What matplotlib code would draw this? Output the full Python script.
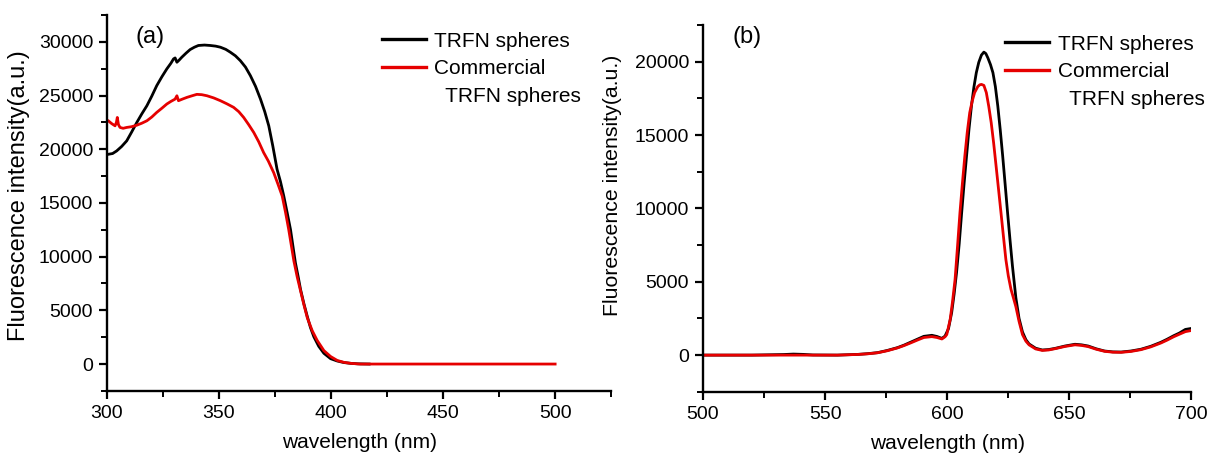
"""Fluorescence spectra of TRFN spheres vs commercial TRFN spheres, panels (a) and (b)."""
import matplotlib
matplotlib.use("Agg")
import matplotlib.pyplot as plt
from matplotlib.lines import Line2D
from matplotlib.ticker import MultipleLocator

plt.rcParams["font.family"] = ["Liberation Sans", "DejaVu Sans"]

# panel (a): excitation spectra
a_trfn_wl = [300, 300.6, 302.5, 304.3, 306.5, 308.8, 311, 313.3, 315.5, 317.8, 320,
             322.2, 324.5, 326.7, 328.5, 329.7, 330.4, 331.2, 332.2, 333.4, 335.3,
             337.1, 339, 340.8, 343.5, 346.1, 348.5, 350.6, 353, 355, 357.3, 359.5,
             361.8, 364, 366.3, 368.5, 370.4, 372.2, 374, 375.9, 377.4, 378.9, 380.4,
             381.9, 383, 384.1, 385.3, 386.4, 387.9, 389.4, 390.8, 392.3, 394.5,
             396.8, 399.8, 402.8, 405.7, 408.7, 412, 417]
a_trfn_int = [19500, 19530, 19600, 19840, 20250, 20780, 21600, 22490, 23280, 24050,
              24950, 25920, 26750, 27480, 28000, 28410, 28500, 28100, 28300, 28570,
              28950, 29280, 29500, 29660, 29700, 29660, 29600, 29500, 29300, 29040,
              28700, 28250, 27650, 26850, 25850, 24670, 23500, 22180, 20300, 18130,
              17000, 15640, 14100, 12520, 10950, 9410, 8150, 6920, 5600, 4420, 3400,
              2550, 1650, 1000, 500, 280, 140, 65, 20, 0]
a_comm_wl = [300, 300.6, 302, 303.6, 304.2, 304.6, 305.1, 305.8, 307.2, 308.8, 311,
             313.3, 315.5, 317.8, 320, 322.2, 324.5, 326.7, 328.5, 330.4, 331.2,
             331.9, 333.8, 335.7, 338, 340.1, 342.3, 344.6, 347.6, 350.6, 353.5,
             356.5, 358.8, 361, 363.2, 365.5, 367.7, 369.9, 372, 374.4, 376.3, 378.2,
             379.7, 381.1, 382.3, 383.4, 384.9, 386.4, 387.9, 389.4, 391.6, 393.8,
             396.8, 399.8, 402.8, 405.7, 409, 413, 430, 450, 470, 490, 500]
a_comm_int = [22700, 22650, 22400, 22180, 22500, 22960, 22300, 22030, 21950, 22030,
              22100, 22240, 22420, 22650, 23000, 23430, 23820, 24210, 24450, 24670,
              24980, 24520, 24680, 24830, 24980, 25110, 25080, 24980, 24780, 24520,
              24230, 23900, 23500, 22960, 22300, 21560, 20700, 19690, 18900, 17820,
              16750, 15640, 14100, 12520, 11000, 9600, 8100, 6800, 5500, 4300, 3100,
              2200, 1250, 700, 330, 160, 60, 0, 0, 0, 0, 0, 0]

# panel (b): emission spectra
b_trfn_wl = [500, 520, 533, 537, 541, 545, 555, 563.4, 567.5, 571.5, 575.5, 579.6,
             582.3, 585, 587.7, 590.4, 593.7, 595.8, 597.8, 599.1, 600.5, 601.8,
             602.8, 603.8, 604.9, 605.9, 606.9, 607.9, 608.9, 609.9, 610.9, 611.9,
             612.9, 614, 615, 615.8, 616.6, 617.7, 618.7, 619.7, 620.7, 621.7, 622.7,
             623.7, 624.7, 625.7, 626.7, 628.1, 629.4, 630.8, 632.2, 633.5, 636.2,
             638.9, 641.5, 644.2, 648.2, 652.3, 655, 657.7, 661, 664.4, 667.8, 671.2,
             675.2, 679.3, 683.3, 687.4, 690, 692.7, 695, 697.5, 700]
b_trfn_int = [0, 0, 40, 70, 50, 10, 0, 50, 100, 170, 320, 510, 680, 880, 1080, 1280,
              1350, 1270, 1140, 1300, 1800, 2890, 4150, 5617, 7600, 9707, 11700,
              13565, 15400, 16970, 18250, 19250, 19950, 20450, 20650, 20550, 20270,
              19800, 19250, 18300, 16970, 15350, 13565, 11650, 9707, 7850, 6070, 3900,
              2500, 1580, 1050, 760, 470, 350, 380, 460, 620, 740, 700, 620, 430, 280,
              220, 210, 280, 400, 600, 870, 1080, 1320, 1500, 1750, 1820]
b_comm_wl = [500, 520, 540, 555, 563.4, 567.5, 571.5, 575.5, 579.6, 582.3, 585,
             587.7, 590.4, 593.7, 595.8, 597.8, 599.1, 599.8, 601.2, 602.2, 603.2,
             604.2, 605.2, 606.2, 607.2, 608.2, 609.2, 610.2, 611.2, 612.5, 613.3,
             614, 615, 616, 617, 618, 619, 620, 621, 622, 623, 624, 625, 626.1, 627.1,
             628.1, 629.4, 630.8, 632.2, 633.5, 636.2, 638.9, 641.5, 644.2, 648.2,
             652.3, 655, 657.7, 661, 664.4, 667.8, 671.2, 675.2, 679.3, 683.3, 687.4,
             690, 692.7, 695, 697.5, 700]
b_comm_int = [0, 0, 0, 0, 45, 90, 160, 300, 490, 650, 830, 1020, 1200, 1260, 1200,
              1100, 1250, 1400, 2430, 3700, 5160, 7400, 9707, 11700, 13565, 15200,
              16520, 17300, 17890, 18300, 18420, 18450, 18380, 17890, 16950, 15840,
              14450, 12880, 11300, 9707, 8100, 6520, 5400, 4480, 3900, 3300, 2300,
              1400, 950, 700, 420, 320, 350, 440, 590, 700, 660, 580, 400, 260, 200,
              190, 250, 370, 560, 820, 1020, 1250, 1420, 1600, 1680]

LABELS = ["TRFN spheres", "Commercial", "  TRFN spheres"]
BLACK = "#000000"
RED = "#e60000"


def style_axes(ax, xlim, ylim, xmajor, ymajor, ylabel_size, ylabel_xy):
    ax.set_xlim(*xlim)
    ax.set_ylim(*ylim)
    ax.xaxis.set_major_locator(MultipleLocator(xmajor))
    ax.xaxis.set_minor_locator(MultipleLocator(xmajor / 2))
    ax.yaxis.set_major_locator(MultipleLocator(ymajor))
    ax.yaxis.set_minor_locator(MultipleLocator(ymajor / 2))
    for side in ("top", "right"):
        ax.spines[side].set_visible(False)
    for side in ("left", "bottom"):
        ax.spines[side].set_linewidth(1.7)
    ax.tick_params(which="major", direction="out", length=6, width=1.6,
                   labelsize=14, pad=4)
    ax.tick_params(which="minor", direction="out", length=4, width=1.4)
    ax.set_xlabel("wavelength (nm)", fontsize=15, labelpad=8)
    ax.set_ylabel("Fluorescence intensity(a.u.)", fontsize=ylabel_size)
    ax.yaxis.set_label_coords(*ylabel_xy)


def add_legend(ax, anchor):
    handles = [Line2D([], [], color=BLACK, lw=2.4),
               Line2D([], [], color=RED, lw=2.4),
               Line2D([], [], color="none")]
    ax.legend(handles, LABELS, loc="upper left", bbox_to_anchor=anchor,
              frameon=False, fontsize=15, handlelength=2.1, handletextpad=0.43,
              labelspacing=0.42, borderaxespad=0, borderpad=0)


fig = plt.figure(figsize=(12.09, 4.54), dpi=100)
ax_a = fig.add_axes([0.0885, 0.139, 0.417, 0.828])
ax_b = fig.add_axes([0.5815, 0.137, 0.4040, 0.808])

ax_a.plot(a_trfn_wl, a_trfn_int, color=BLACK, lw=2.0)
ax_a.plot(a_comm_wl, a_comm_int, color=RED, lw=2.0)
style_axes(ax_a, (300, 525), (-2500, 32500), 50, 5000, 17, (-0.153, 0.52))
ax_a.text(0.056, 0.941, "(a)", transform=ax_a.transAxes, fontsize=17, va="center")
add_legend(ax_a, (0.545, 0.956))

ax_b.plot(b_trfn_wl, b_trfn_int, color=BLACK, lw=2.0)
ax_b.plot(b_comm_wl, b_comm_int, color=RED, lw=2.0)
style_axes(ax_b, (500, 700), (-2500, 22500), 50, 5000, 15.3, (-0.166, 0.564))
ax_b.text(0.061, 0.967, "(b)", transform=ax_b.transAxes, fontsize=17, va="center")
add_legend(ax_b, (0.618, 0.974))

fig.savefig("out.png", dpi=100)
